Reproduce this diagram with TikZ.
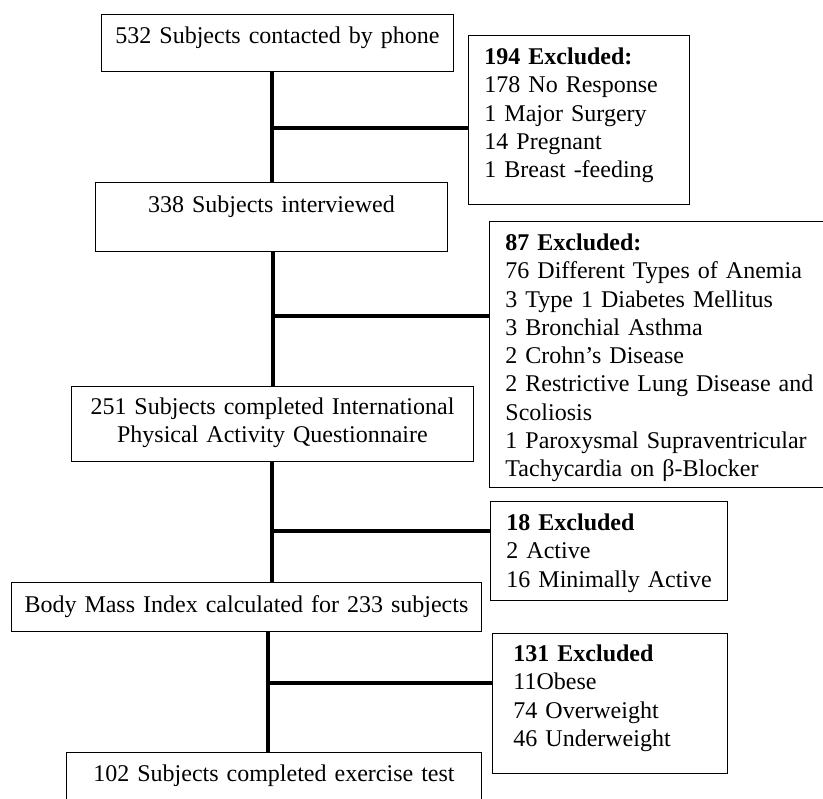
\documentclass[tikz,border=0pt]{standalone}
\usepackage{fontspec}
\setmainfont{Liberation Serif}
\newcommand{\chartfont}{\fontsize{24pt}{28.3pt}\selectfont\hyphenpenalty=10000\exhyphenpenalty=10000}
\tikzset{
  mainbox/.style={draw, line width=0.9pt, inner sep=0pt, anchor=north west,
    align=center, font=\chartfont},
  exclbox/.style={draw, line width=0.9pt, inner ysep=0pt, inner xsep=16pt,
    anchor=north west, align=left, font=\chartfont},
  link/.style={line width=4pt}
}
\begin{document}
\begin{tikzpicture}[x=1pt, y=-1pt]
	\useasboundingbox (0,0) rectangle (823,799);
	% main column
	\node[mainbox, text width=352pt, text height=29pt, text depth=28pt] (phone) at (101,14) {532 Subjects contacted by phone};
	\node[mainbox, text width=352pt, text height=30pt, text depth=39pt] (interviewed) at (95,182) {338 Subjects interviewed};
	\node[mainbox, text width=402pt, text height=28pt, text depth=47pt] (ipaq) at (71,386) {251 Subjects completed International\\Physical Activity Questionnaire};
	\node[mainbox, text width=470pt, text height=30pt, text depth=19pt] (bmi) at (11,582) {Body Mass Index calculated for 233 subjects};
	\node[mainbox, text width=415pt, text height=29pt, text depth=50pt] (exercise) at (66,752) {102 Subjects completed exercise test};

	% exclusion boxes
	\node[exclbox, text width=189pt, text height=29pt, text depth=140pt] (excl1) at (468,35) {\textbf{194 Excluded:}\\178 No Response\\1 Major Surgery\\14 Pregnant\\1 Breast -feeding};
	\node[exclbox, text width=309pt, text height=29pt, text depth=237pt] (excl2) at (489,221) {\textbf{87 Excluded:}\\76 Different Types of Anemia\\3 Type 1 Diabetes Mellitus\\3 Bronchial Asthma\\2 Crohn’s Disease\\\mbox{2 Restrictive Lung Disease and}\\Scoliosis\\\mbox{1 Paroxysmal Supraventricular}\\Tachycardia on β-Blocker};
	\node[exclbox, text width=205pt, text height=29pt, text depth=70pt] (excl3) at (490,501) {\textbf{18 Excluded}\\2 Active\\\mbox{16 Minimally Active}};
	\node[exclbox, inner xsep=21pt, text width=193pt, text height=28pt, text depth=112pt] (excl4) at (492,633) {\textbf{131 Excluded}\\11Obese\\74 Overweight\\46 Underweight};

	% branch points
	\coordinate (j1) at (272,128);
	\coordinate (j2) at (273,316);
	\coordinate (j3) at (272,531);
	\coordinate (j4) at (268,683);

	\draw[link] (phone.south -| j1) -- (interviewed.north -| j1);
	\draw[link] (j1) -- (j1 -| excl1.west);
	\draw[link] (interviewed.south -| j2) -- (ipaq.north -| j2);
	\draw[link] (j2) -- (j2 -| excl2.west);
	\draw[link] (ipaq.south -| j3) -- (bmi.north -| j3);
	\draw[link] (j3) -- (j3 -| excl3.west);
	\draw[link] (bmi.south -| j4) -- (exercise.north -| j4);
	\draw[link] (j4) -- (j4 -| excl4.west);
\end{tikzpicture}
\end{document}
